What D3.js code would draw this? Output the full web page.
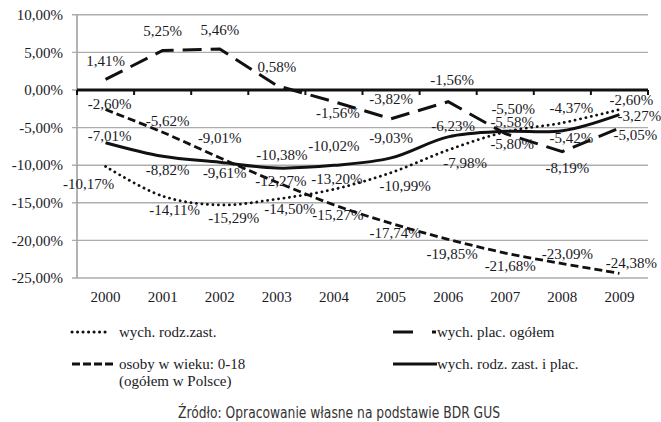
<!DOCTYPE html>
<html>
<head>
<meta charset="utf-8">
<script src="https://cdn.jsdelivr.net/npm/d3@7"></script>
<style>
  body { margin: 0; background: #fff; }
  svg text { font-family: "Liberation Serif", "Times New Roman", serif; fill: #1a1a26; }
</style>
</head>
<body>
<svg id="chart" width="661" height="422"></svg>
<script>
var years = ["2000", "2001", "2002", "2003", "2004", "2005", "2006", "2007", "2008", "2009"];
var yTicks = [10, 5, 0, -5, -10, -15, -20, -25];

var rodzZast = [-10.17, -14.11, -15.29, -14.50, -13.20, -10.99, -7.98, -5.58, -4.37, -2.60];
var placOgolem = [1.41, 5.25, 5.46, 0.58, -1.56, -3.82, -1.56, -5.80, -8.19, -5.05];
var osoby018 = [-2.60, -5.62, -9.01, -12.27, -15.27, -17.74, -19.85, -21.68, -23.09, -24.38];
var rodzIPlac = [-7.01, -8.82, -9.61, -10.38, -10.02, -9.03, -6.23, -5.50, -5.42, -3.27];

// label offsets (px) from each point, as placed in the original
var offRodz = [[-17, 17], [12, 14], [14, 13], [13, 10], [3, -11], [14, 13], [17, 13], [7, -10], [9, -15], [12, -10]];
var offPlac = [[0, -19], [0, -20], [0, -19], [0, -19], [4, 11], [0, -20], [4, -22], [7, 10], [5, 16], [16, 7]];
var offOsoby = [[4, -6], [5, -12], [0, -20], [4, -2], [4, 10], [4, 9], [4, 14], [5, 13], [5, -10], [12, -11]];
var offRazem = [[4, -7], [5, 13], [5, 10], [5, -13], [0, -20], [0, -20], [5, -11], [8, -23], [9, 7], [20, 1]];

var svg = d3.select("#chart");

var x = d3.scaleBand().domain(years).range([77, 648]).padding(0);
var y = d3.scaleLinear().domain([-25, 10]).range([278, 14.8]);

var fmt = function(v) {
  return v.toFixed(2).replace(".", ",") + "%";
};

var cx = function(i) {
  return x(years[i]) + x.bandwidth() / 2;
};

// gridlines
svg.append("g").selectAll("line").data(yTicks).enter().append("line")
  .attr("x1", 72).attr("x2", 648)
  .attr("y1", function(d) { return y(d); })
  .attr("y2", function(d) { return y(d); })
  .attr("stroke", "#adadad").attr("stroke-width", 1.4);

// y axis line
svg.append("line")
  .attr("x1", 77).attr("x2", 77).attr("y1", y(10)).attr("y2", y(-25))
  .attr("stroke", "#a0a0a0").attr("stroke-width", 1.6);

// y tick labels
svg.append("g").selectAll("text").data(yTicks).enter().append("text")
  .attr("x", 63).attr("y", function(d) { return y(d); })
  .attr("dy", "0.35em").attr("text-anchor", "end")
  .style("font-size", "15px")
  .text(function(d) { return fmt(d); });

// zero axis with tick marks
var bounds = years.map(function(d) { return x(d); }).concat([648]);
svg.append("g").selectAll("line").data(bounds).enter().append("line")
  .attr("x1", function(d) { return d; }).attr("x2", function(d) { return d; })
  .attr("y1", y(0)).attr("y2", y(0) + 5)
  .attr("stroke", "#111").attr("stroke-width", 2);
svg.append("line")
  .attr("x1", 77).attr("x2", 648).attr("y1", y(0)).attr("y2", y(0))
  .attr("stroke", "#111").attr("stroke-width", 3.2);

// year labels
svg.append("g").selectAll("text").data(years).enter().append("text")
  .attr("x", function(d) { return x(d) + x.bandwidth() / 2; })
  .attr("y", 297).attr("dy", "0.35em").attr("text-anchor", "middle")
  .style("font-size", "15px")
  .text(function(d) { return d; });

var series = [
  { values: osoby018, offs: offOsoby, dash: "8,4", width: 2.8, cap: "butt", curve: d3.curveCatmullRom },
  { values: rodzZast, offs: offRodz, dash: "0.1,5.4", width: 2.8, cap: "round", curve: d3.curveCatmullRom },
  { values: rodzIPlac, offs: offRazem, dash: null, width: 3, cap: "butt", curve: d3.curveCatmullRom },
  { values: placOgolem, offs: offPlac, dash: "19,9", width: 3, cap: "butt", curve: d3.curveLinear }
];

series.forEach(function(s) {
  var line = d3.line()
    .x(function(d, i) { return cx(i); })
    .y(function(d) { return y(d); })
    .curve(s.curve);
  svg.append("path")
    .datum(s.values)
    .attr("d", line)
    .attr("fill", "none")
    .attr("stroke", "#111")
    .attr("stroke-width", s.width)
    .attr("stroke-linecap", s.cap)
    .attr("stroke-dasharray", s.dash);
});

series.forEach(function(s) {
  svg.append("g").selectAll("text").data(s.values).enter().append("text")
    .attr("x", function(d, i) { return cx(i) + s.offs[i][0]; })
    .attr("y", function(d, i) { return y(d) + s.offs[i][1]; })
    .attr("dy", "0.35em").attr("text-anchor", "middle")
    .style("font-size", "15px")
    .text(function(d) { return fmt(d); });
});

// legend
var legend = [
  { label: ["wych. rodz.zast."], x1: 72, x2: 110, tx: 119, ty: 332, dash: "0.1,5.4", cap: "round" },
  { label: ["osoby w wieku: 0-18", "(ogółem w Polsce)"], x1: 72, x2: 116, tx: 119, ty: 364, dash: "8,3", cap: "butt" },
  { label: ["wych. plac. ogółem"], x1: 393, x2: 436, tx: 437, ty: 332, dash: "20,19", cap: "butt" },
  { label: ["wych. rodz. zast. i plac."], x1: 393, x2: 437, tx: 437, ty: 364, dash: null, cap: "butt" }
];

legend.forEach(function(l) {
  svg.append("line")
    .attr("x1", l.x1).attr("x2", l.x2).attr("y1", l.ty).attr("y2", l.ty)
    .attr("stroke", "#111").attr("stroke-width", 3)
    .attr("stroke-linecap", l.cap)
    .attr("stroke-dasharray", l.dash);
  l.label.forEach(function(t, j) {
    svg.append("text")
      .attr("x", l.tx).attr("y", l.ty + j * 16.5)
      .attr("dy", "0.35em")
      .style("font-size", "15px")
      .text(t);
  });
});

// source note
svg.append("text")
  .attr("x", 339).attr("y", 413).attr("dy", "0.35em")
  .attr("text-anchor", "middle")
  .attr("textLength", 322).attr("lengthAdjust", "spacingAndGlyphs")
  .style("font-family", "'DejaVu Sans Condensed', 'Liberation Sans Narrow', sans-serif")
  .style("font-size", "15px")
  .style("fill", "#333")
  .text("Źródło: Opracowanie własne na podstawie BDR GUS");
</script>
</body>
</html>
